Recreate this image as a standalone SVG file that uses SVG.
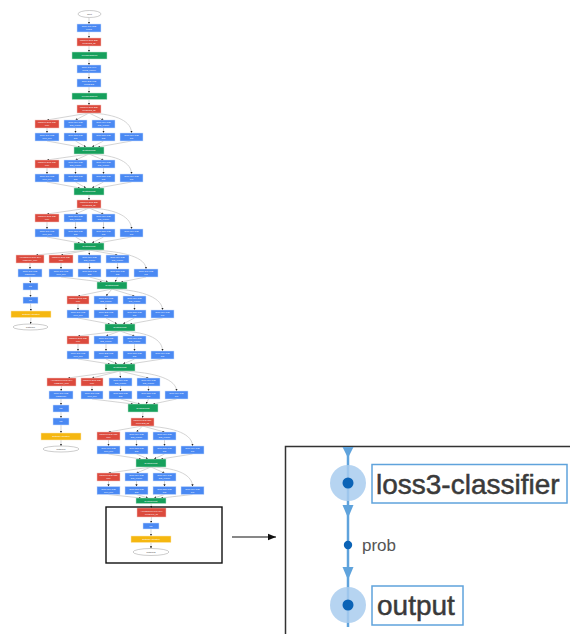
<svg xmlns="http://www.w3.org/2000/svg" width="570" height="634" viewBox="0 0 570 634">
<style>
.b rect{fill:#4a89f3;stroke:#cfe0fc;stroke-width:.5}
.r rect{fill:#dc4a3d;stroke:#f3c6c1;stroke-width:.5}
.g rect{fill:#16a05c;stroke:#bfe4d0;stroke-width:.5}
.y rect{fill:#f5b710;stroke:#fde8b4;stroke-width:.5}
.e ellipse{fill:#fff;stroke:#9a9a9a;stroke-width:.5}
text.t{font-family:"Liberation Sans",Arial,sans-serif;font-size:2.2px;fill:#fff;text-anchor:middle}
.e text.t{fill:#444}
#edges path{fill:none;stroke:#c2c2c2;stroke-width:.7;marker-end:url(#a)}
.big{font-family:"Liberation Sans",Arial,sans-serif;font-size:28px;fill:#3a3a3a;stroke:#3a3a3a;stroke-width:.5}
.lb{fill:#fff;stroke:#5fa3dc;stroke-width:1.5}
.tri{fill:#5fa3dc}
.halo{fill:#a9cdee;opacity:.85}
.dot{fill:#0b63b6}
</style>
<defs>
<marker id="a" viewBox="0 0 4 4" refX="4" refY="2" markerWidth="2.2" markerHeight="2.2" markerUnits="userSpaceOnUse" orient="auto"><path d="M0,0L4,2L0,4z" fill="#222"/></marker>
<marker id="k" viewBox="0 0 10 10" refX="10" refY="5" markerWidth="8" markerHeight="8" markerUnits="userSpaceOnUse" orient="auto"><path d="M0,1L10,5L0,9z" fill="#111"/></marker>
</defs>
<rect width="570" height="634" fill="#fff"/>

<g id="edges">
<path d="M89,17.5L89,24"/><path d="M89,32L89,38"/><path d="M89,46L89,52"/><path d="M89,59L89,65"/><path d="M89,73L89,79"/><path d="M89,87L89,93"/><path d="M89,99.5L89,105"/>
<path d="M89,113L47,120"/><path d="M89,113L75.5,120"/><path d="M89,113L103.5,120"/><path d="M89,113C118,114 131.5,122 131.5,133"/>
<path d="M47,128L47,133"/><path d="M75.5,128L75.5,133"/><path d="M103.5,128L103.5,133"/>
<path d="M47,141L80,147"/><path d="M75.5,141L86,147"/><path d="M103.5,141L92,147"/><path d="M131.5,141L98,147"/>
<path d="M89,154L47,160"/><path d="M89,154L75.5,160"/><path d="M89,154L103.5,160"/><path d="M89,154C118,155 131.5,163 131.5,174"/>
<path d="M47,168L47,174"/><path d="M75.5,168L75.5,174"/><path d="M103.5,168L103.5,174"/>
<path d="M47,182L80,188"/><path d="M75.5,182L86,188"/><path d="M103.5,182L92,188"/><path d="M131.5,182L98,188"/>
<path d="M89,195L89,200"/>
<path d="M89,208L47,214"/><path d="M89,208L75.5,214"/><path d="M89,208L103.5,214"/><path d="M89,208C118,209 131.5,218 131.5,229"/>
<path d="M47,222L47,229"/><path d="M75.5,222L75.5,229"/><path d="M103.5,222L103.5,229"/>
<path d="M47,237L80,243"/><path d="M75.5,237L86,243"/><path d="M103.5,237L92,243"/><path d="M131.5,237L98,243"/>
<path d="M89,250L36,255"/><path d="M89,250L61,255"/><path d="M89,250L89.5,255"/><path d="M89,250L117.5,255"/><path d="M89,250C126,251 146,258 146,269"/>
<path d="M61,263L61,269"/><path d="M89.5,263L89.5,269"/><path d="M117.5,263L117.5,269"/>
<path d="M61,277L102,282"/><path d="M89.5,277L108,282"/><path d="M117.5,277L115,282"/><path d="M146,277L121,282"/>
<path d="M30,263L30,269"/><path d="M30,277L30.5,283"/><path d="M30.5,290L30.5,297"/><path d="M30.5,303.5L31,311"/><path d="M31,317.5L30.5,324"/>
<path d="M112,289L78,296"/><path d="M112,289L106,296"/><path d="M112,289L134.5,296"/><path d="M112,289C145,290 162.5,299 162.5,310"/>
<path d="M78,304L78,310"/><path d="M106,304L106,310"/><path d="M134.5,304L134.5,310"/>
<path d="M78,318L110,324"/><path d="M106,318L117,324"/><path d="M134.5,318L123,324"/><path d="M162.5,318L130,324"/>
<path d="M120,331L78,336"/><path d="M120,331L106,336"/><path d="M120,331L134.5,336"/><path d="M120,331C150,332 162.5,340 162.5,351"/>
<path d="M78,344L78,351"/><path d="M106,344L106,351"/><path d="M134.5,344L134.5,351"/>
<path d="M78,359L110,364"/><path d="M106,359L117,364"/><path d="M134.5,359L123,364"/><path d="M162.5,359L130,364"/>
<path d="M120,371L68,378"/><path d="M120,371L92,378"/><path d="M120,371L120.5,378"/><path d="M120,371L148.5,378"/><path d="M120,371C157,372 176.5,380 176.5,391"/>
<path d="M92,386L92,391"/><path d="M120.5,386L120.5,391"/><path d="M148.5,386L148.5,391"/>
<path d="M92,399L133,404"/><path d="M120.5,399L140,404"/><path d="M148.5,399L146,404"/><path d="M176.5,399L153,404"/>
<path d="M61.5,386L61,391"/><path d="M61,399L61,405"/><path d="M61,412L61,418"/><path d="M61,425L61,433"/><path d="M61,440L61,446"/>
<path d="M143,412L142.5,418"/>
<path d="M142.5,426L108.5,432"/><path d="M142.5,426L136.5,432"/><path d="M142.5,426L164.5,432"/><path d="M142.5,426C177,427 192.5,435 192.5,446"/>
<path d="M108.5,440L108.5,446"/><path d="M136.5,440L136.5,446"/><path d="M164.5,440L164.5,446"/>
<path d="M108.5,454L141,459"/><path d="M136.5,454L148,459"/><path d="M164.5,454L154,459"/><path d="M192.5,454L161,459"/>
<path d="M151,467L108.5,473"/><path d="M151,467L136.5,473"/><path d="M151,467L164.5,473"/><path d="M151,467C180,468 192.5,476 192.5,486.5"/>
<path d="M108.5,481L108.5,486.5"/><path d="M136.5,481L136.5,486.5"/><path d="M164.5,481L164.5,486.5"/>
<path d="M108.5,494.5L141,498"/><path d="M136.5,494.5L148,498"/><path d="M164.5,494.5L154,498"/><path d="M192.5,494.5L161,498"/>
<path d="M151,503.5L151.5,508"/><path d="M151.5,517L151,523"/><path d="M151,529L151,536"/><path d="M151,542.5L151,548.5"/>
</g>

<g id="input" class="e"><ellipse cx="89.5" cy="14" rx="11.5" ry="3.5"/><text class="t" x="89.5" y="14.8">input</text></g>
<g id="conv1" class="b"><rect x="77" y="24" width="24" height="8"/><text class="t" x="89" y="27.4">Conv 7x7+2(S)</text><text class="t" x="89" y="30.4">conv1</text></g>
<g id="pool1" class="r"><rect x="77" y="38" width="24" height="8"/><text class="t" x="89" y="41.4">MaxPool 3x3+2(S)</text><text class="t" x="89" y="44.4">pool1/3x3_s2</text></g>
<g id="norm1" class="g"><rect x="72" y="52" width="35" height="7"/><text class="t" x="89.5" y="56.2">LocalRespNorm</text></g>
<g id="conv2r" class="b"><rect x="77" y="65" width="24" height="8"/><text class="t" x="89" y="68.4">Conv 1x1+1(V)</text><text class="t" x="89" y="71.4">conv2_reduce</text></g>
<g id="conv2" class="b"><rect x="77" y="79" width="24" height="8"/><text class="t" x="89" y="82.4">Conv 3x3+1(S)</text><text class="t" x="89" y="85.4">conv2/3x3</text></g>
<g id="norm2" class="g"><rect x="72" y="93" width="35" height="6.5"/><text class="t" x="89.5" y="97">LocalRespNorm</text></g>
<g id="pool2" class="r"><rect x="77" y="105" width="24" height="8"/><text class="t" x="89" y="108.4">MaxPool 3x3+2(S)</text><text class="t" x="89" y="111.4">pool2/3x3_s2</text></g>

<g id="i3a-pool" class="r"><rect x="35" y="120" width="24" height="8"/><text class="t" x="47" y="123.4">MaxPool 3x3+1(S)</text><text class="t" x="47" y="126.4">pool</text></g>
<g id="i3a-r3" class="b"><rect x="64" y="120" width="23" height="8"/><text class="t" x="75.5" y="123.4">Conv 1x1+1(S)</text><text class="t" x="75.5" y="126.4">3x3_reduce</text></g>
<g id="i3a-r5" class="b"><rect x="92" y="120" width="23" height="8"/><text class="t" x="103.5" y="123.4">Conv 1x1+1(S)</text><text class="t" x="103.5" y="126.4">5x5_reduce</text></g>
<g id="i3a-pp" class="b"><rect x="35" y="133" width="24" height="8"/><text class="t" x="47" y="136.4">Conv 1x1+1(S)</text><text class="t" x="47" y="139.4">pool_proj</text></g>
<g id="i3a-3" class="b"><rect x="64" y="133" width="23" height="8"/><text class="t" x="75.5" y="136.4">Conv 3x3+1(S)</text><text class="t" x="75.5" y="139.4">3x3</text></g>
<g id="i3a-5" class="b"><rect x="92" y="133" width="23" height="8"/><text class="t" x="103.5" y="136.4">Conv 5x5+1(S)</text><text class="t" x="103.5" y="139.4">5x5</text></g>
<g id="i3a-1" class="b"><rect x="120" y="133" width="23" height="8"/><text class="t" x="131.5" y="136.4">Conv 1x1+1(S)</text><text class="t" x="131.5" y="139.4">1x1</text></g>
<g id="i3a-cat" class="g"><rect x="74" y="147" width="30" height="7"/><text class="t" x="89" y="151.2">DepthConcat</text></g>

<g id="i3b-pool" class="r"><rect x="35" y="160" width="24" height="8"/><text class="t" x="47" y="163.4">MaxPool 3x3+1(S)</text><text class="t" x="47" y="166.4">pool</text></g>
<g id="i3b-r3" class="b"><rect x="64" y="160" width="23" height="8"/><text class="t" x="75.5" y="163.4">Conv 1x1+1(S)</text><text class="t" x="75.5" y="166.4">3x3_reduce</text></g>
<g id="i3b-r5" class="b"><rect x="92" y="160" width="23" height="8"/><text class="t" x="103.5" y="163.4">Conv 1x1+1(S)</text><text class="t" x="103.5" y="166.4">5x5_reduce</text></g>
<g id="i3b-pp" class="b"><rect x="35" y="174" width="24" height="8"/><text class="t" x="47" y="177.4">Conv 1x1+1(S)</text><text class="t" x="47" y="180.4">pool_proj</text></g>
<g id="i3b-3" class="b"><rect x="64" y="174" width="23" height="8"/><text class="t" x="75.5" y="177.4">Conv 3x3+1(S)</text><text class="t" x="75.5" y="180.4">3x3</text></g>
<g id="i3b-5" class="b"><rect x="92" y="174" width="23" height="8"/><text class="t" x="103.5" y="177.4">Conv 5x5+1(S)</text><text class="t" x="103.5" y="180.4">5x5</text></g>
<g id="i3b-1" class="b"><rect x="120" y="174" width="23" height="8"/><text class="t" x="131.5" y="177.4">Conv 1x1+1(S)</text><text class="t" x="131.5" y="180.4">1x1</text></g>
<g id="i3b-cat" class="g"><rect x="74" y="188" width="30" height="7"/><text class="t" x="89" y="192.2">DepthConcat</text></g>
<g id="pool3" class="r"><rect x="77" y="200" width="24" height="8"/><text class="t" x="89" y="203.4">MaxPool 3x3+2(S)</text><text class="t" x="89" y="206.4">pool3/3x3_s2</text></g>

<g id="i4a-pool" class="r"><rect x="35" y="214" width="24" height="8"/><text class="t" x="47" y="217.4">MaxPool 3x3+1(S)</text><text class="t" x="47" y="220.4">pool</text></g>
<g id="i4a-r3" class="b"><rect x="64" y="214" width="23" height="8"/><text class="t" x="75.5" y="217.4">Conv 1x1+1(S)</text><text class="t" x="75.5" y="220.4">3x3_reduce</text></g>
<g id="i4a-r5" class="b"><rect x="92" y="214" width="23" height="8"/><text class="t" x="103.5" y="217.4">Conv 1x1+1(S)</text><text class="t" x="103.5" y="220.4">5x5_reduce</text></g>
<g id="i4a-pp" class="b"><rect x="35" y="229" width="24" height="8"/><text class="t" x="47" y="232.4">Conv 1x1+1(S)</text><text class="t" x="47" y="235.4">pool_proj</text></g>
<g id="i4a-3" class="b"><rect x="64" y="229" width="23" height="8"/><text class="t" x="75.5" y="232.4">Conv 3x3+1(S)</text><text class="t" x="75.5" y="235.4">3x3</text></g>
<g id="i4a-5" class="b"><rect x="92" y="229" width="23" height="8"/><text class="t" x="103.5" y="232.4">Conv 5x5+1(S)</text><text class="t" x="103.5" y="235.4">5x5</text></g>
<g id="i4a-1" class="b"><rect x="120" y="229" width="23" height="8"/><text class="t" x="131.5" y="232.4">Conv 1x1+1(S)</text><text class="t" x="131.5" y="235.4">1x1</text></g>
<g id="i4a-cat" class="g"><rect x="74" y="243" width="30" height="7"/><text class="t" x="89" y="247.2">DepthConcat</text></g>

<g id="aux1-pool" class="r"><rect x="16" y="255" width="28" height="8"/><text class="t" x="30" y="258.4">AveragePool 5x5+3(V)</text><text class="t" x="30" y="261.4">loss1/ave_pool</text></g>
<g id="aux1-conv" class="b"><rect x="18" y="269" width="24" height="8"/><text class="t" x="30" y="272.4">Conv 1x1+1(S)</text><text class="t" x="30" y="275.4">loss1/conv</text></g>
<g id="aux1-fc1" class="b"><rect x="23" y="283" width="15" height="7"/><text class="t" x="30.5" y="287.2">FC</text></g>
<g id="aux1-fc2" class="b"><rect x="23" y="297" width="15" height="6.5"/><text class="t" x="30.5" y="301">FC</text></g>
<g id="aux1-sm" class="y"><rect x="11" y="311" width="40" height="6.5"/><text class="t" x="31" y="315">SoftmaxActivation</text></g>
<g id="softmax0" class="e"><ellipse cx="30.5" cy="327" rx="17.5" ry="3"/><text class="t" x="30.5" y="327.8">softmax0</text></g>

<g id="i4b-pool" class="r"><rect x="49" y="255" width="24" height="8"/><text class="t" x="61" y="258.4">MaxPool 3x3+1(S)</text><text class="t" x="61" y="261.4">pool</text></g>
<g id="i4b-r3" class="b"><rect x="78" y="255" width="23" height="8"/><text class="t" x="89.5" y="258.4">Conv 1x1+1(S)</text><text class="t" x="89.5" y="261.4">3x3_reduce</text></g>
<g id="i4b-r5" class="b"><rect x="106" y="255" width="23" height="8"/><text class="t" x="117.5" y="258.4">Conv 1x1+1(S)</text><text class="t" x="117.5" y="261.4">5x5_reduce</text></g>
<g id="i4b-pp" class="b"><rect x="49" y="269" width="24" height="8"/><text class="t" x="61" y="272.4">Conv 1x1+1(S)</text><text class="t" x="61" y="275.4">pool_proj</text></g>
<g id="i4b-3" class="b"><rect x="78" y="269" width="23" height="8"/><text class="t" x="89.5" y="272.4">Conv 3x3+1(S)</text><text class="t" x="89.5" y="275.4">3x3</text></g>
<g id="i4b-5" class="b"><rect x="106" y="269" width="23" height="8"/><text class="t" x="117.5" y="272.4">Conv 5x5+1(S)</text><text class="t" x="117.5" y="275.4">5x5</text></g>
<g id="i4b-1" class="b"><rect x="134" y="269" width="24" height="8"/><text class="t" x="146" y="272.4">Conv 1x1+1(S)</text><text class="t" x="146" y="275.4">1x1</text></g>
<g id="i4b-cat" class="g"><rect x="97" y="282" width="30" height="7"/><text class="t" x="112" y="286.2">DepthConcat</text></g>

<g id="i4c-pool" class="r"><rect x="67" y="296" width="22" height="8"/><text class="t" x="78" y="299.4">MaxPool 3x3+1(S)</text><text class="t" x="78" y="302.4">pool</text></g>
<g id="i4c-r3" class="b"><rect x="94" y="296" width="24" height="8"/><text class="t" x="106" y="299.4">Conv 1x1+1(S)</text><text class="t" x="106" y="302.4">3x3_reduce</text></g>
<g id="i4c-r5" class="b"><rect x="123" y="296" width="23" height="8"/><text class="t" x="134.5" y="299.4">Conv 1x1+1(S)</text><text class="t" x="134.5" y="302.4">5x5_reduce</text></g>
<g id="i4c-pp" class="b"><rect x="67" y="310" width="22" height="8"/><text class="t" x="78" y="313.4">Conv 1x1+1(S)</text><text class="t" x="78" y="316.4">pool_proj</text></g>
<g id="i4c-3" class="b"><rect x="94" y="310" width="24" height="8"/><text class="t" x="106" y="313.4">Conv 3x3+1(S)</text><text class="t" x="106" y="316.4">3x3</text></g>
<g id="i4c-5" class="b"><rect x="123" y="310" width="23" height="8"/><text class="t" x="134.5" y="313.4">Conv 5x5+1(S)</text><text class="t" x="134.5" y="316.4">5x5</text></g>
<g id="i4c-1" class="b"><rect x="151" y="310" width="23" height="8"/><text class="t" x="162.5" y="313.4">Conv 1x1+1(S)</text><text class="t" x="162.5" y="316.4">1x1</text></g>
<g id="i4c-cat" class="g"><rect x="105" y="324" width="30" height="7"/><text class="t" x="120" y="328.2">DepthConcat</text></g>

<g id="i4d-pool" class="r"><rect x="67" y="336" width="22" height="8"/><text class="t" x="78" y="339.4">MaxPool 3x3+1(S)</text><text class="t" x="78" y="342.4">pool</text></g>
<g id="i4d-r3" class="b"><rect x="94" y="336" width="24" height="8"/><text class="t" x="106" y="339.4">Conv 1x1+1(S)</text><text class="t" x="106" y="342.4">3x3_reduce</text></g>
<g id="i4d-r5" class="b"><rect x="123" y="336" width="23" height="8"/><text class="t" x="134.5" y="339.4">Conv 1x1+1(S)</text><text class="t" x="134.5" y="342.4">5x5_reduce</text></g>
<g id="i4d-pp" class="b"><rect x="67" y="351" width="22" height="8"/><text class="t" x="78" y="354.4">Conv 1x1+1(S)</text><text class="t" x="78" y="357.4">pool_proj</text></g>
<g id="i4d-3" class="b"><rect x="94" y="351" width="24" height="8"/><text class="t" x="106" y="354.4">Conv 3x3+1(S)</text><text class="t" x="106" y="357.4">3x3</text></g>
<g id="i4d-5" class="b"><rect x="123" y="351" width="23" height="8"/><text class="t" x="134.5" y="354.4">Conv 5x5+1(S)</text><text class="t" x="134.5" y="357.4">5x5</text></g>
<g id="i4d-1" class="b"><rect x="151" y="351" width="23" height="8"/><text class="t" x="162.5" y="354.4">Conv 1x1+1(S)</text><text class="t" x="162.5" y="357.4">1x1</text></g>
<g id="i4d-cat" class="g"><rect x="105" y="364" width="30" height="7"/><text class="t" x="120" y="368.2">DepthConcat</text></g>

<g id="aux2-pool" class="r"><rect x="47" y="378" width="29" height="8"/><text class="t" x="61.5" y="381.4">AveragePool 5x5+3(V)</text><text class="t" x="61.5" y="384.4">loss2/ave_pool</text></g>
<g id="aux2-conv" class="b"><rect x="49" y="391" width="24" height="8"/><text class="t" x="61" y="394.4">Conv 1x1+1(S)</text><text class="t" x="61" y="397.4">loss2/conv</text></g>
<g id="aux2-fc1" class="b"><rect x="53" y="405" width="16" height="7"/><text class="t" x="61" y="409.2">FC</text></g>
<g id="aux2-fc2" class="b"><rect x="53" y="418" width="16" height="7"/><text class="t" x="61" y="422.2">FC</text></g>
<g id="aux2-sm" class="y"><rect x="41" y="433" width="40" height="7"/><text class="t" x="61" y="437.2">SoftmaxActivation</text></g>
<g id="softmax1" class="e"><ellipse cx="61" cy="449" rx="18" ry="3"/><text class="t" x="61" y="449.8">softmax1</text></g>

<g id="i4e-pool" class="r"><rect x="81" y="378" width="22" height="8"/><text class="t" x="92" y="381.4">MaxPool 3x3+1(S)</text><text class="t" x="92" y="384.4">pool</text></g>
<g id="i4e-r3" class="b"><rect x="109" y="378" width="23" height="8"/><text class="t" x="120.5" y="381.4">Conv 1x1+1(S)</text><text class="t" x="120.5" y="384.4">3x3_reduce</text></g>
<g id="i4e-r5" class="b"><rect x="137" y="378" width="23" height="8"/><text class="t" x="148.5" y="381.4">Conv 1x1+1(S)</text><text class="t" x="148.5" y="384.4">5x5_reduce</text></g>
<g id="i4e-pp" class="b"><rect x="81" y="391" width="22" height="8"/><text class="t" x="92" y="394.4">Conv 1x1+1(S)</text><text class="t" x="92" y="397.4">pool_proj</text></g>
<g id="i4e-3" class="b"><rect x="109" y="391" width="23" height="8"/><text class="t" x="120.5" y="394.4">Conv 3x3+1(S)</text><text class="t" x="120.5" y="397.4">3x3</text></g>
<g id="i4e-5" class="b"><rect x="137" y="391" width="23" height="8"/><text class="t" x="148.5" y="394.4">Conv 5x5+1(S)</text><text class="t" x="148.5" y="397.4">5x5</text></g>
<g id="i4e-1" class="b"><rect x="165" y="391" width="23" height="8"/><text class="t" x="176.5" y="394.4">Conv 1x1+1(S)</text><text class="t" x="176.5" y="397.4">1x1</text></g>
<g id="i4e-cat" class="g"><rect x="128" y="404" width="30" height="8"/><text class="t" x="143" y="408.7">DepthConcat</text></g>
<g id="pool4" class="r"><rect x="131" y="418" width="23" height="8"/><text class="t" x="142.5" y="421.4">MaxPool 3x3+2(S)</text><text class="t" x="142.5" y="424.4">pool4/3x3_s2</text></g>

<g id="i5a-pool" class="r"><rect x="97" y="432" width="23" height="8"/><text class="t" x="108.5" y="435.4">MaxPool 3x3+1(S)</text><text class="t" x="108.5" y="438.4">pool</text></g>
<g id="i5a-r3" class="b"><rect x="125" y="432" width="23" height="8"/><text class="t" x="136.5" y="435.4">Conv 1x1+1(S)</text><text class="t" x="136.5" y="438.4">3x3_reduce</text></g>
<g id="i5a-r5" class="b"><rect x="153" y="432" width="23" height="8"/><text class="t" x="164.5" y="435.4">Conv 1x1+1(S)</text><text class="t" x="164.5" y="438.4">5x5_reduce</text></g>
<g id="i5a-pp" class="b"><rect x="97" y="446" width="23" height="8"/><text class="t" x="108.5" y="449.4">Conv 1x1+1(S)</text><text class="t" x="108.5" y="452.4">pool_proj</text></g>
<g id="i5a-3" class="b"><rect x="125" y="446" width="23" height="8"/><text class="t" x="136.5" y="449.4">Conv 3x3+1(S)</text><text class="t" x="136.5" y="452.4">3x3</text></g>
<g id="i5a-5" class="b"><rect x="153" y="446" width="23" height="8"/><text class="t" x="164.5" y="449.4">Conv 5x5+1(S)</text><text class="t" x="164.5" y="452.4">5x5</text></g>
<g id="i5a-1" class="b"><rect x="181" y="446" width="23" height="8"/><text class="t" x="192.5" y="449.4">Conv 1x1+1(S)</text><text class="t" x="192.5" y="452.4">1x1</text></g>
<g id="i5a-cat" class="g"><rect x="136" y="459" width="30" height="8"/><text class="t" x="151" y="463.7">DepthConcat</text></g>

<g id="i5b-pool" class="r"><rect x="97" y="473" width="23" height="8"/><text class="t" x="108.5" y="476.4">MaxPool 3x3+1(S)</text><text class="t" x="108.5" y="479.4">pool</text></g>
<g id="i5b-r3" class="b"><rect x="125" y="473" width="23" height="8"/><text class="t" x="136.5" y="476.4">Conv 1x1+1(S)</text><text class="t" x="136.5" y="479.4">3x3_reduce</text></g>
<g id="i5b-r5" class="b"><rect x="153" y="473" width="23" height="8"/><text class="t" x="164.5" y="476.4">Conv 1x1+1(S)</text><text class="t" x="164.5" y="479.4">5x5_reduce</text></g>
<g id="i5b-pp" class="b"><rect x="97" y="486.5" width="23" height="8"/><text class="t" x="108.5" y="489.9">Conv 1x1+1(S)</text><text class="t" x="108.5" y="492.9">pool_proj</text></g>
<g id="i5b-3" class="b"><rect x="125" y="486.5" width="23" height="8"/><text class="t" x="136.5" y="489.9">Conv 3x3+1(S)</text><text class="t" x="136.5" y="492.9">3x3</text></g>
<g id="i5b-5" class="b"><rect x="153" y="486.5" width="23" height="8"/><text class="t" x="164.5" y="489.9">Conv 5x5+1(S)</text><text class="t" x="164.5" y="492.9">5x5</text></g>
<g id="i5b-1" class="b"><rect x="181" y="486.5" width="23" height="8"/><text class="t" x="192.5" y="489.9">Conv 1x1+1(S)</text><text class="t" x="192.5" y="492.9">1x1</text></g>
<g id="i5b-cat" class="g"><rect x="136" y="498" width="30" height="5.5"/><text class="t" x="151" y="501.5">DepthConcat</text></g>

<g id="pool5" class="r"><rect x="137" y="508" width="29" height="9"/><text class="t" x="151.5" y="511.8">AveragePool 7x7+1(V)</text><text class="t" x="151.5" y="515">pool5/7x7_s1</text></g>
<g id="fc3" class="b"><rect x="143" y="523" width="16" height="6"/><text class="t" x="151" y="526.7">FC</text></g>
<g id="sm3" class="y"><rect x="131" y="536" width="40" height="6.5"/><text class="t" x="151" y="540">SoftmaxActivation</text></g>
<g id="softmax2" class="e"><ellipse cx="151" cy="552" rx="18" ry="3.5"/><text class="t" x="151" y="552.8">softmax2</text></g>

<rect x="106" y="507" width="116" height="56" fill="none" stroke="#111" stroke-width="1.4"/>
<line x1="232" y1="537" x2="276" y2="537" stroke="#111" stroke-width="1.2" marker-end="url(#k)"/>

<g id="inset">
<rect x="285.5" y="446.5" width="300" height="200" fill="#fff" stroke="#333" stroke-width="1.5"/>
<line x1="348" y1="447" x2="348" y2="627" stroke="#5fa3dc" stroke-width="2.5"/>
<polygon class="tri" points="342.5,447 353.5,447 348,458"/>
<polygon class="tri" points="342.5,505 353.5,505 348,518"/>
<polygon class="tri" points="342.5,567 353.5,567 348,580"/>
<g id="n-loss3"><circle class="halo" cx="348" cy="483" r="18"/><circle class="dot" cx="348" cy="483" r="5.5"/><rect class="lb" x="372" y="464.5" width="195" height="38.5"/><text class="big" x="376" y="494">loss3-classifier</text></g>
<g id="n-prob"><circle class="dot" cx="348" cy="545" r="4.2"/><text x="362" y="551" font-family="Liberation Sans, Arial, sans-serif" font-size="17" fill="#555">prob</text></g>
<g id="n-output"><circle class="halo" cx="348" cy="605" r="18"/><circle class="dot" cx="348" cy="605" r="5.5"/><rect class="lb" x="372" y="586" width="91" height="39"/><text class="big" x="377" y="615">output</text></g>
</g>
</svg>
